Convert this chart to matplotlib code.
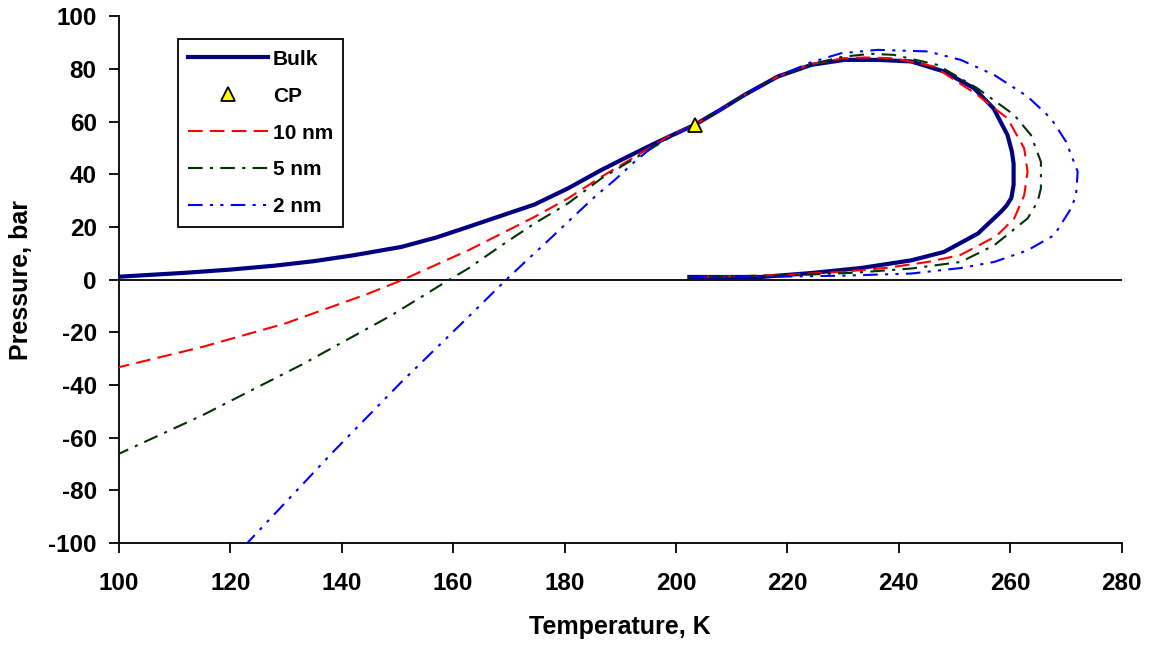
import matplotlib.pyplot as plt

plt.rcParams["font.family"] = ["Liberation Sans", "DejaVu Sans"]
plt.rcParams["font.weight"] = "bold"
plt.rcParams["axes.unicode_minus"] = False

# values (T in K, P in bar), following each envelope
bulk_T = [100, 104, 112, 120, 128, 135, 142, 150.7, 157, 162.7, 168.7, 174.6, 180.6, 186.6,
          191, 195.6, 199.5, 203.5, 208, 212.3, 218.3, 224.3, 230.2, 236.2, 242.2, 248.1,
          253.5, 257, 259.5, 260.3, 260.6, 260.6, 260.2, 259.3, 258.3, 254.2, 248.1, 242.2,
          233.2, 224.3, 215.3, 202.4]
bulk_P = [1.1, 1.6, 2.6, 3.8, 5.3, 7.0, 9.2, 12.4, 16.0, 20.0, 24.3, 28.5, 34.6, 41.6,
          46.3, 51.1, 55.0, 58.9, 64.5, 70.1, 77.1, 81.5, 83.4, 83.4, 82.8, 79.0,
          72.6, 65.0, 54.9, 48.5, 44.0, 36.0, 31.0, 28.0, 25.7, 17.5, 10.5, 7.3,
          4.4, 2.5, 1.0, 1.0]

cp_T = [203.5]
cp_P = [58.5]

nm10_T = [99.3, 114.9, 129.8, 144.8, 150.7, 156.7, 162.7, 168.7, 174.6, 180.6, 186.6, 192.6,
          198.6, 203.5, 208, 212.3, 218.3, 224.3, 230, 234, 239.1, 246.3, 254.1, 259.5,
          262.5, 263.1, 262.5, 260.7, 257.5, 251, 245.2, 238, 230, 220, 210, 202.4]
nm10_P = [-33.6, -25.6, -16.7, -5.3, -0.3, 5.4, 11.1, 17.5, 23.8, 30.8, 39.0, 46.6,
          54.3, 58.9, 64.5, 70.1, 77.1, 81.8, 84.0, 84.3, 84.0, 80.9, 70.1, 61.2,
          49.8, 41.0, 32.0, 23.2, 16.5, 9.3, 6.7, 4.5, 3.0, 1.8, 1.2, 1.0]

nm5_T = [99.3, 114.9, 132.8, 148.9, 159.1, 162.7, 168.7, 174.6, 180.6, 186.6, 192.6, 198.6,
         203.5, 208, 212.3, 218.3, 224.3, 230, 235, 239.1, 246.9, 254.1, 260.7, 263.7,
         265.5, 265.5, 264.9, 263.1, 257.1, 251.1, 242.2, 232, 220, 202.4]
nm5_P = [-66.8, -51.6, -32.3, -13.6, -0.3, 4.2, 13.0, 21.3, 28.9, 38.4, 46.0, 53.6,
         58.9, 64.5, 70.1, 77.1, 81.8, 84.6, 85.7, 85.3, 81.5, 72.6, 62.5, 54.9,
         44.7, 34.6, 29.5, 23.2, 13.0, 6.7, 4.2, 2.6, 1.6, 1.0]

nm2_T = [122.6, 138.4, 150.7, 163, 169, 172.9, 177.1, 180.6, 185.4, 189, 192.6, 196.2,
         199.8, 203.5, 208, 212.3, 218.3, 224, 229.6, 236.2, 245.2, 251.1, 257.1, 263.1,
         267.3, 270, 272.1, 271.8, 270.9, 267.9, 263.1, 257.1, 251.1, 242.2, 230, 215, 202.4]
nm2_P = [-101, -65.5, -38.9, -13.6, -1.1, 6.7, 14.9, 21.9, 31.4, 37.8, 44.8, 51.1,
         54.9, 58.9, 64.5, 70.1, 77.1, 82.3, 85.9, 87.2, 86.6, 83.4, 77.7, 69.5,
         61.2, 52.4, 41.0, 32.0, 27.0, 16.9, 11.1, 6.7, 4.4, 2.3, 1.5, 1.0, 1.0]

x_ticks = list(range(100, 281, 20))
y_ticks = list(range(-100, 101, 20))

fig = plt.figure(figsize=(11.54, 6.45), dpi=100)
ax = fig.add_axes([0.103, 0.158, 0.869, 0.817])

ax.axhline(0, color="black", lw=1.3, zorder=1)

ax.plot(bulk_T, bulk_P, color="#000080", lw=3.0, label="Bulk", zorder=3)
ax.plot(cp_T, cp_P, ls="none", marker="^", ms=10, mfc="#FFFF00", mec="black", mew=1.3,
        label="CP", zorder=6)
ax.plot(nm10_T, nm10_P, color="#FF0000", lw=1.5, ls=(0, (7, 3.5)), label="10 nm", zorder=4)
ax.plot(nm5_T, nm5_P, color="#003300", lw=1.5, ls=(0, (7, 3.5, 1.5, 3.5)), label="5 nm", zorder=4)
ax.plot(nm2_T, nm2_P, color="#0000FF", lw=1.5, ls=(0, (7, 3.5, 1.5, 3.5, 1.5, 3.5)),
        label="2 nm", zorder=5)

ax.set_xlim(100, 280)
ax.set_ylim(-100, 100)
ax.set_xticks(x_ticks)
ax.set_yticks(y_ticks)
ax.tick_params(direction="out", length=7, width=1.3, labelsize=17.5)
ax.tick_params(axis="y", pad=9)
ax.tick_params(axis="x", pad=14)
for side in ("top", "right"):
    ax.spines[side].set_visible(False)
for side in ("left", "bottom"):
    ax.spines[side].set_linewidth(1.3)

ax.set_xlabel("Temperature, K", fontsize=18, fontweight="bold", labelpad=14)
ax.set_ylabel("Pressure, bar", fontsize=18, fontweight="bold", labelpad=11)

leg = ax.legend(loc="upper left", bbox_to_anchor=(0.059, 0.956), borderaxespad=0,
                fontsize=15, handlelength=3.8, handletextpad=0.25, labelspacing=0.86,
                borderpad=0.5, fancybox=False, framealpha=1, edgecolor="black")
leg.get_frame().set_linewidth(1.3)
for t in leg.get_texts():
    t.set_fontweight("bold")

fig.savefig("out.png", dpi=100)
